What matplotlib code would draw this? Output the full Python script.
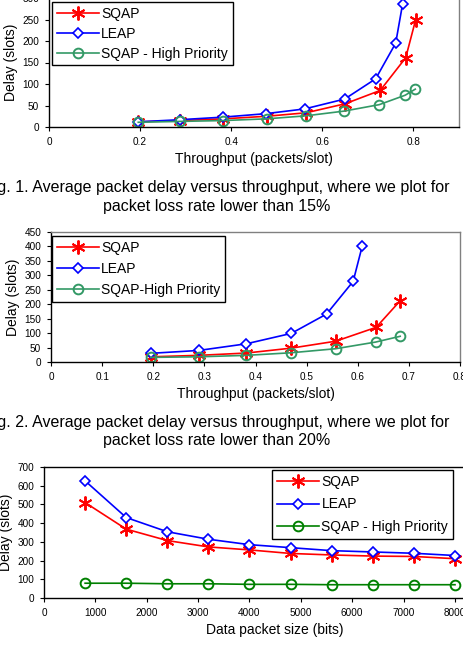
import matplotlib
matplotlib.use("Agg")
import matplotlib.pyplot as plt

plt.rcParams['font.family'] = ['Liberation Sans', 'DejaVu Sans']

# ---------------- data ----------------
# Panel 1: packet loss < 15%
p1_sqap_x = [0.196, 0.288, 0.383, 0.478, 0.564, 0.650, 0.727, 0.783, 0.805]
p1_sqap_y = [12, 15, 19, 25, 33, 54, 85, 161, 250]
p1_leap_x = [0.196, 0.288, 0.383, 0.476, 0.561, 0.649, 0.717, 0.761, 0.776]
p1_leap_y = [12, 17, 23, 31, 42, 65, 112, 195, 285]
p1_hp_x = [0.196, 0.288, 0.383, 0.478, 0.564, 0.648, 0.725, 0.782, 0.804]
p1_hp_y = [11, 13, 15, 19, 26, 37, 52, 74, 88]
p1_xticks = [0, 0.2, 0.4, 0.6, 0.8]
p1_xticklabels = ["0", "0.2", "0.4", "0.6", "0.8"]
p1_yticks = [0, 50, 100, 150, 200, 250, 300]

# Panel 2: packet loss < 20%
p2_sqap_x = [0.195, 0.289, 0.382, 0.470, 0.557, 0.636, 0.683]
p2_sqap_y = [18, 23, 31, 48, 72, 120, 212]
p2_leap_x = [0.195, 0.289, 0.382, 0.470, 0.539, 0.591, 0.609]
p2_leap_y = [30, 40, 63, 99, 166, 279, 403]
p2_hp_x = [0.195, 0.289, 0.382, 0.470, 0.557, 0.635, 0.683]
p2_hp_y = [16, 18, 23, 32, 46, 69, 89]
p2_xticks = [0, 0.1, 0.2, 0.3, 0.4, 0.5, 0.6, 0.7, 0.8]
p2_xticklabels = ["0", "0.1", "0.2", "0.3", "0.4", "0.5", "0.6", "0.7", "0.8"]
p2_yticks = [0, 50, 100, 150, 200, 250, 300, 350, 400, 450]

# Panel 3: delay vs packet size
p3_x = [800, 1600, 2400, 3200, 4000, 4800, 5600, 6400, 7200, 8000]
p3_sqap_y = [510, 368, 307, 273, 257, 238, 230, 224, 222, 210]
p3_leap_y = [626, 430, 354, 314, 285, 269, 253, 246, 239, 227]
p3_hp_y = [79, 79, 76, 76, 73, 73, 71, 71, 71, 71]
p3_xticks = [0, 1000, 2000, 3000, 4000, 5000, 6000, 7000, 8000]
p3_yticks = [0, 100, 200, 300, 400, 500, 600, 700]

labels_12 = ["SQAP", "LEAP", "SQAP - High Priority"]
labels_2 = ["SQAP", "LEAP", "SQAP-High Priority"]
caption1 = ["Fig. 1. Average packet delay versus throughput, where we plot for",
            "packet loss rate lower than 15%"]
caption2 = ["Fig. 2. Average packet delay versus throughput, where we plot for",
            "packet loss rate lower than 20%"]

# ---------------- figure ----------------
W, H = 464, 650
fig = plt.figure(figsize=(W / 100, H / 100), dpi=100)

RED = "#FF0000"
BLUE = "#0000FF"
TEAL = "#339966"
GREEN = "#008000"

def ax_at(left, right, top, bottom):
    return fig.add_axes([left / W, 1 - bottom / H, (right - left) / W, (bottom - top) / H])

def fpos(x, y):
    return (x / W, 1 - y / H)

def style(ax, gray_box=True):
    for s in ("left", "bottom"):
        ax.spines[s].set_color("black")
        ax.spines[s].set_linewidth(1.0)
    for s in ("top", "right"):
        ax.spines[s].set_color("#808080" if gray_box else "black")
        ax.spines[s].set_linewidth(1.0)
    ax.tick_params(direction="out", length=3, width=0.8, labelsize=7.2, pad=4, colors="black")

def plot_series(ax, x, y, color, kind, label):
    if kind == "star":
        ax.plot(x, y, color=color, lw=1.2, marker=(6, 2, 0), ms=10, mew=1.4, label=label)
    elif kind == "diamond":
        ax.plot(x, y, color=color, lw=1.2, marker="D", ms=5.5, mew=1.2, mfc="white", label=label)
    else:
        ax.plot(x, y, color=color, lw=1.2, marker="o", ms=7, mew=1.4, mfc="none", label=label)

def legend(ax, anchor, loc, spacing):
    lg = ax.legend(loc=loc, bbox_to_anchor=fpos(*anchor), bbox_transform=fig.transFigure,
                   fontsize=10, frameon=True, fancybox=False, framealpha=1, edgecolor="black",
                   handlelength=3.0, handletextpad=0.2, borderpad=0.35, labelspacing=spacing,
                   borderaxespad=0)
    lg.get_frame().set_linewidth(1.0)
    return lg

CAP_FS = 11.5
LAB_FS = 10

# Panel 1
ax1 = ax_at(49, 459, -2, 127)
plot_series(ax1, p1_sqap_x, p1_sqap_y, RED, "star", labels_12[0])
plot_series(ax1, p1_leap_x, p1_leap_y, BLUE, "diamond", labels_12[1])
plot_series(ax1, p1_hp_x, p1_hp_y, TEAL, "circle", labels_12[2])
ax1.set_xlim(0, 0.9)
ax1.set_ylim(0, 300)
ax1.set_xticks(p1_xticks, p1_xticklabels)
ax1.set_yticks(p1_yticks)
style(ax1)
ax1.set_xlabel("Throughput (packets/slot)", fontsize=LAB_FS, labelpad=4)
ax1.set_ylabel("Delay (slots)", fontsize=LAB_FS, labelpad=3)
legend(ax1, (52, 2), "upper left", 0.42)

fig.text(217 / W, 1 - 188 / H, caption1[0], ha="center", va="center", fontsize=CAP_FS)
fig.text(217 / W, 1 - 207 / H, caption1[1], ha="center", va="center", fontsize=CAP_FS)

# Panel 2
ax2 = ax_at(51, 460, 232, 362)
plot_series(ax2, p2_sqap_x, p2_sqap_y, RED, "star", labels_2[0])
plot_series(ax2, p2_leap_x, p2_leap_y, BLUE, "diamond", labels_2[1])
plot_series(ax2, p2_hp_x, p2_hp_y, TEAL, "circle", labels_2[2])
ax2.set_xlim(0, 0.8)
ax2.set_ylim(0, 450)
ax2.set_xticks(p2_xticks, p2_xticklabels)
ax2.set_yticks(p2_yticks)
style(ax2)
ax2.set_xlabel("Throughput (packets/slot)", fontsize=LAB_FS, labelpad=4)
ax2.set_ylabel("Delay (slots)", fontsize=LAB_FS, labelpad=3)
legend(ax2, (52, 236), "upper left", 0.5)

fig.text(217 / W, 1 - 423 / H, caption2[0], ha="center", va="center", fontsize=CAP_FS)
fig.text(217 / W, 1 - 441 / H, caption2[1], ha="center", va="center", fontsize=CAP_FS)

# Panel 3
ax3 = ax_at(44, 455 + 411 / 8, 467, 598)
plot_series(ax3, p3_x, p3_sqap_y, RED, "star", labels_12[0])
plot_series(ax3, p3_x, p3_leap_y, BLUE, "diamond", labels_12[1])
plot_series(ax3, p3_x, p3_hp_y, GREEN, "circle", labels_12[2])
ax3.set_xlim(0, 9000)
ax3.set_ylim(0, 700)
ax3.set_xticks(p3_xticks)
ax3.set_yticks(p3_yticks)
style(ax3, gray_box=False)
ax3.spines["right"].set_visible(False)
ax3.set_xlabel("Data packet size (bits)", fontsize=LAB_FS, labelpad=4)
ax3.set_ylabel("Delay (slots)", fontsize=LAB_FS, labelpad=3)
legend(ax3, (453, 470), "upper right", 0.62)

fig.savefig("out.png", dpi=100)
